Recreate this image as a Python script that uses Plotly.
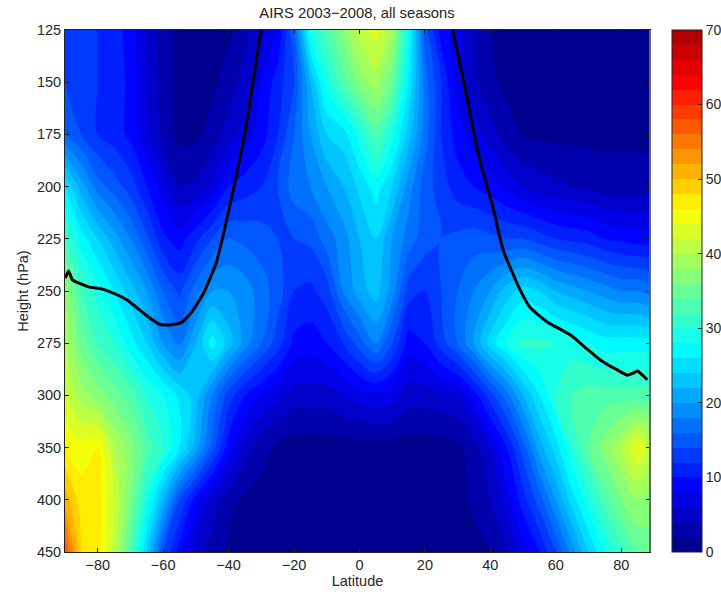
import numpy as np
import plotly.graph_objects as go

levels_hpa = [125, 150, 175, 200, 225, 250, 275, 300, 350, 400, 450]
lat = [-90, -85, -80, -75, -70, -65, -60, -55, -50, -45, -40, -35, -30, -25, -20, -15, -10, -5, 0,
       5, 10, 15, 20, 25, 30, 35, 40, 45, 50, 55, 60, 65, 70, 75, 80, 85, 89]

z_125 = [14, 13, 12, 11, 9, 5.5, 3, 1.5, 1, 1, 1.5, 3, 6, 8, 16, 29, 33, 37, 41,
         43, 39, 28, 15, 9, 7, 4, 2, 1.5, 1.5, 1.5, 1.5, 1.5, 1.5, 1.5, 1.5, 1.5, 1.5]
z_150 = [14, 13, 12, 11, 9.5, 6, 3, 1.5, 1, 1.5, 3, 5, 8, 11, 14, 22, 29, 33, 37,
         39, 35, 26, 17, 12, 7, 4.5, 2.5, 1.5, 1.2, 1.2, 1.2, 1.2, 1.2, 1.2, 1.2, 1.2, 1.2]
z_175 = [16, 14, 12, 11, 9.5, 6.5, 3.5, 1.5, 1.5, 3, 5, 7, 9, 12, 16, 20, 24, 25, 29,
         33, 29, 23, 17, 12, 9, 7, 5, 3, 1.8, 1.5, 1.5, 1.5, 1.5, 1.5, 1.5, 1.5, 1.5]
z_200 = [26, 21, 17, 15, 13, 10, 7, 4, 4.5, 6.5, 10, 11, 12, 14, 17, 18, 20, 22, 24.5,
         27, 24, 19, 15, 13, 11, 10, 9, 7.5, 6, 5, 4.5, 4, 3.5, 3, 3, 3, 3]
z_225 = [32, 27, 24, 21, 18, 14.5, 10.5, 9, 11.5, 14, 16, 15.5, 15, 14, 14, 14.5, 17, 19, 22,
         24, 20, 17, 15, 14, 14.5, 15, 14.5, 14, 14, 13, 12, 11.5, 11, 10, 9.5, 9, 9]
z_250 = [38, 32, 29, 26, 23, 20, 16, 13.5, 17, 20, 20, 19, 17, 15, 12, 11.5, 13, 18, 21,
         23, 19, 13, 12, 14, 16, 18, 20, 23, 25, 24, 22, 21, 20, 19, 18, 18, 17]
z_275 = [40, 35, 32, 30, 27, 24, 20, 17.5, 22, 27, 23, 19, 16, 13, 9.5, 9, 10, 12, 15,
         18, 14, 9, 10, 13, 16, 20, 25, 28, 30.5, 30.5, 30, 29, 28, 27, 27, 27, 27]
z_300 = [42, 39, 37, 35, 33, 30, 28, 25.5, 23, 18, 13, 10, 8, 6.5, 5, 5, 5, 6, 7,
         7.5, 7, 5, 5, 5.5, 6, 9, 13, 17, 22, 26, 30, 32, 33, 33, 33, 33, 33]
z_350 = [46, 45, 46, 40, 37, 33, 30, 26, 21, 15, 9, 5, 3, 1.5, 1, 1, 1, 1, 1,
         1, 1, 1, 1, 1, 1.5, 3, 6, 10, 15, 21, 25, 30, 34, 37, 40, 44, 41]
z_400 = [51, 47, 47, 42, 36, 29, 22, 14, 9, 5, 3, 1.5, 1, 0.8, 0.8, 0.8, 0.8, 0.8, 0.8,
         0.8, 0.8, 0.8, 0.8, 0.8, 1, 2.5, 4, 7, 11, 15, 20, 25, 29, 33, 36, 38, 37]
z_450 = [58, 48, 47, 41, 33, 24, 14, 9, 5, 3, 1.5, 0.8, 0.8, 0.8, 0.8, 0.8, 0.8, 0.8, 0.8,
         0.8, 0.8, 0.8, 0.8, 0.8, 0.8, 1, 2, 4, 7, 10, 14, 19, 24, 28, 31, 34, 35]

trop_lat = [-89.9, -88.9, -87.7, -82.8, -78.8, -75.2, -71, -65.3, -61.3, -58.3, -54.6, -51.2, -47.5,
            -43.8, -40.8, -37.7, -34.7, -32.8, -30, None,
            28.5, 32.8, 36.8, 40.8, 43.9, 49.1, 52.1, 57.4, 64.4, 69.6, 73.6, 78.8, 81.9, 83.7, 85, 86.5, 88]
trop_hpa = [243.8, 240.4, 244.7, 248, 249, 251, 254.3, 261.5, 265.8, 266.3, 265.3, 260, 250.5,
            236.6, 217.5, 195.4, 171.4, 152.3, 125, None,
            125, 157, 187.3, 209.8, 230.3, 249.5, 257.8, 264.8, 271, 277.8, 283, 287.8, 290.3, 289.3, 288.3, 290.3, 292.5]

jet = [[0, "rgb(0,0,128)"], [0.125, "rgb(0,0,255)"], [0.39, "rgb(0,255,255)"],
       [0.654, "rgb(255,255,0)"], [0.9, "rgb(255,0,0)"], [1, "rgb(165,0,0)"]]

FONT = "Liberation Sans, Arial, sans-serif"
INK = "#262626"
W, H = 721, 592

rows = [z_125, z_150, z_175, z_200, z_225, z_250, z_275, z_300, z_350, z_400, z_450]
y_index = list(range(len(levels_hpa)))
trop_y = [None if p is None else float(np.interp(p, levels_hpa, y_index)) for p in trop_hpa]

fig = go.Figure()
fig.add_trace(go.Contour(
    x=lat, y=y_index, z=rows, colorscale=jet, zmin=0, zmax=70, autocontour=False,
    contours=dict(start=0, end=70, size=2, coloring="fill", showlines=False),
    line=dict(width=0), hoverinfo="skip",
    colorbar=dict(
        xref="container", x=672 / W, xanchor="left", thickness=30, thicknessmode="pixels",
        yref="paper", y=0.5, yanchor="middle", len=1, lenmode="fraction",
        outlinecolor="#222", outlinewidth=1, ticks="inside", ticklen=4, tickcolor="#222",
        tick0=0, dtick=10, xpad=0, ypad=0,
        tickfont=dict(family=FONT, size=14, color=INK),
    ),
))
fig.add_trace(go.Scatter(x=trop_lat, y=trop_y, mode="lines", hoverinfo="skip",
                         line=dict(color="black", width=3, shape="spline", smoothing=0.5),
                         showlegend=False, connectgaps=False))

axis_common = dict(showline=True, linecolor="#222", linewidth=1, mirror="ticks", ticks="inside",
                   ticklen=4, tickcolor="#222", showgrid=False, zeroline=False,
                   tickfont=dict(family=FONT, size=14.5, color=INK))
fig.update_xaxes(range=[-90, 88.8], tickvals=[-80, -60, -40, -20, 0, 20, 40, 60, 80],
                 title=dict(text="Latitude", font=dict(family=FONT, size=14.5, color=INK), standoff=2),
                 **axis_common)
fig.update_yaxes(range=[10, 0], tickvals=y_index, ticktext=[str(v) for v in levels_hpa],
                 title=dict(text="Height (hPa)", font=dict(family=FONT, size=14.5, color=INK), standoff=4),
                 **axis_common)
fig.update_layout(
    width=W, height=H, autosize=False, paper_bgcolor="white", plot_bgcolor="white",
    margin=dict(l=65, r=W - 650, t=30, b=H - 552, pad=0, autoexpand=False),
    showlegend=False,
    title=dict(text="AIRS 2003\u22122008, all seasons", font=dict(family=FONT, size=14.8, color=INK),
               x=357 / W, xanchor="center", y=1 - 13 / H, yanchor="middle"),
    shapes=[dict(type="line", xref="paper", yref="paper", x0=1, x1=1, y0=0, y1=1,
                 line=dict(color="#666", width=2))],
)
fig.write_html("out.html", default_width=f"{W}px", default_height=f"{H}px",
               config={"displayModeBar": False},
               post_script="document.body.style.margin='0';")
